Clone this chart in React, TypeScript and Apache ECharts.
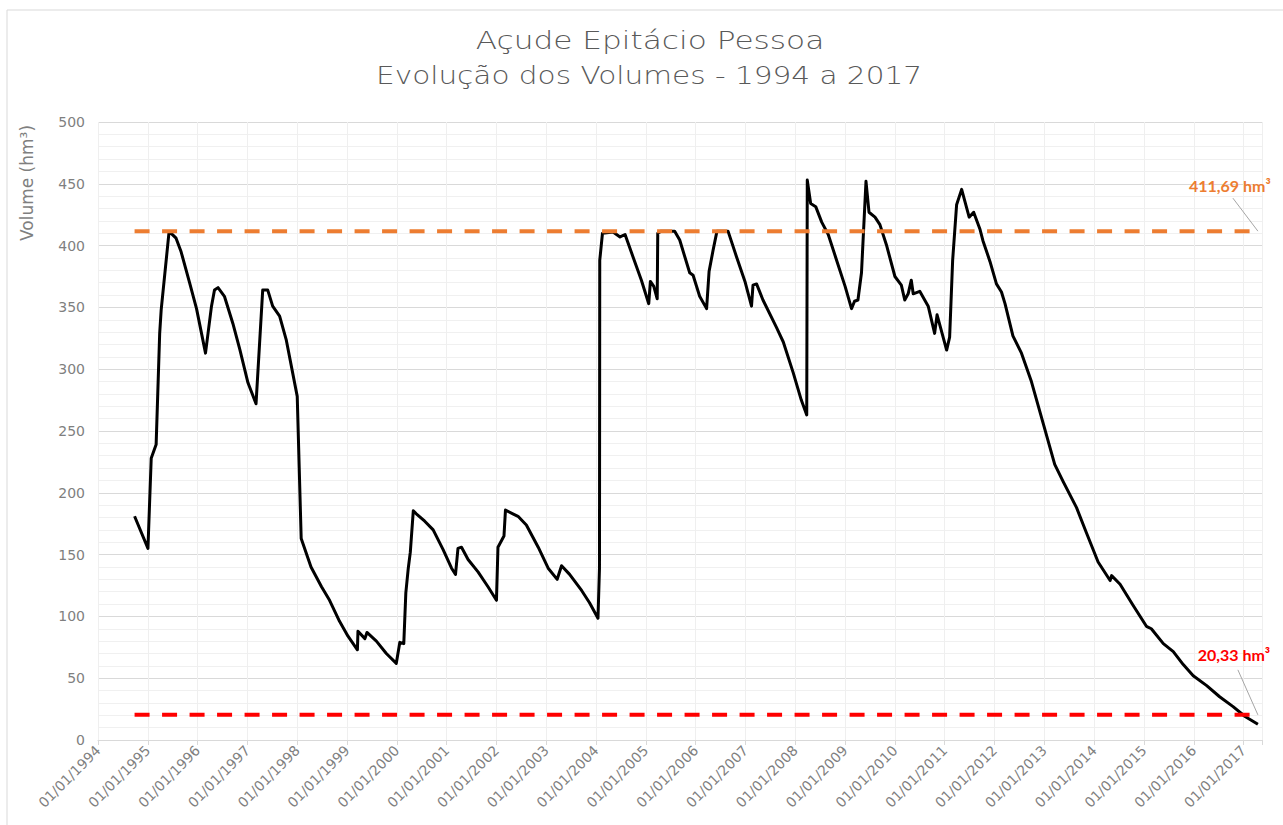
import React, { useEffect, useRef } from 'react';
import * as echarts from 'echarts';

const titleLines = ['Açude Epitácio Pessoa', 'Evolução dos Volumes - 1994 a 2017'];
const yAxisName = 'Volume (hm³)';
const capacity = 411.69;
const capacityLabel = '411,69 hm³';
const currentVolume = 20.33;
const currentLabel = '20,33 hm³';
const xStartYear = 1994;
const xEndYear = 2017.37;
const yMax = 500;
const yStep = 50;

const dates = [
  '1994-09-26', '1995-01-02', '1995-01-26', '1995-03-03', '1995-03-29', '1995-04-09', '1995-06-06', '1995-07-27',
  '1995-09-02', '1995-11-03', '1995-12-24', '1996-02-28', '1996-04-12', '1996-05-04', '1996-05-30', '1996-07-16',
  '1996-09-16', '1996-11-06', '1997-01-05', '1997-03-05', '1997-04-23', '1997-05-30', '1997-07-05', '1997-08-25',
  '1997-10-12', '1998-01-01', '1998-01-30', '1998-04-12', '1998-06-28', '1998-08-26', '1998-11-07', '1999-01-08',
  '1999-03-18', '1999-03-22', '1999-05-12', '1999-05-27', '1999-08-04', '1999-10-16', '1999-12-28', '2000-01-23',
  '2000-02-21', '2000-03-07', '2000-03-25', '2000-04-09', '2000-05-01', '2000-05-23', '2000-07-24', '2000-09-24',
  '2000-12-06', '2001-02-06', '2001-03-07', '2001-03-25', '2001-04-20', '2001-06-07', '2001-08-19', '2001-10-31',
  '2002-01-01', '2002-01-12', '2002-02-25', '2002-03-08', '2002-05-01', '2002-06-08', '2002-08-08', '2002-11-03',
  '2003-01-15', '2003-03-22', '2003-04-23', '2003-06-21', '2003-09-17', '2003-11-14', '2004-01-15', '2004-01-26',
  '2004-01-28', '2004-02-17', '2004-05-05', '2004-06-25', '2004-08-01', '2004-09-28', '2004-11-29', '2005-01-22',
  '2005-02-03', '2005-02-28', '2005-03-25', '2005-03-29', '2005-04-23', '2005-07-31', '2005-09-06', '2005-11-18',
  '2005-12-13', '2006-01-30', '2006-03-22', '2006-04-09', '2006-05-08', '2006-06-06', '2006-08-26', '2006-10-27',
  '2006-12-28', '2007-02-14', '2007-02-25', '2007-03-23', '2007-05-09', '2007-08-15', '2007-10-05', '2007-12-17',
  '2008-02-14', '2008-03-25', '2008-03-29', '2008-04-23', '2008-05-30', '2008-07-13', '2008-08-30', '2008-10-31',
  '2009-01-01', '2009-02-17', '2009-03-11', '2009-04-05', '2009-05-01', '2009-06-03', '2009-06-25', '2009-08-08',
  '2009-09-13', '2009-10-31', '2010-01-01', '2010-02-17', '2010-03-14', '2010-04-08', '2010-05-01', '2010-05-15',
  '2010-07-02', '2010-09-02', '2010-10-19', '2010-11-06', '2011-01-15', '2011-02-06', '2011-02-28', '2011-03-29',
  '2011-05-05', '2011-06-29', '2011-08-01', '2011-09-17', '2011-10-08', '2011-11-29', '2012-01-15', '2012-02-21',
  '2012-03-18', '2012-05-15', '2012-07-17', '2012-09-28', '2012-12-24', '2013-03-18', '2013-05-19', '2013-08-25',
  '2013-11-06', '2014-01-30', '2014-04-28', '2014-05-09', '2014-07-10', '2014-10-13', '2015-01-19', '2015-02-24',
  '2015-05-23', '2015-08-04', '2015-10-16', '2015-12-28', '2016-04-05', '2016-07-09', '2016-10-16', '2017-01-12',
  '2017-04-16',
];

const volumes = [
  181, 155, 228, 239, 329, 348, 411.5, 406,
  395, 370, 349, 313, 351, 364, 366, 359,
  337, 316, 289, 272, 364, 364, 351, 343,
  324, 278, 163, 140, 124, 113, 96, 84,
  73, 88, 82, 87, 80, 70, 62, 79,
  78, 119, 139, 152, 185.5, 183, 177, 170,
  154, 139, 134, 155, 156, 146, 136, 124,
  113, 156, 165, 186, 183, 181, 174, 156,
  139, 130, 141, 134, 121, 111, 98.5, 139,
  388, 410, 411, 407, 409, 391, 372, 353,
  371, 367, 357, 410, 411.7, 411.7, 404.5, 378,
  376, 359, 349, 379, 396, 411.7, 411.7, 391,
  371, 351, 368, 369, 356, 334, 322, 297,
  275, 263, 453, 434, 431.5, 419, 409, 388,
  367, 349, 355, 356, 378, 452, 427, 423,
  417, 400.5, 375, 368, 356, 361, 372, 361,
  363, 351, 329, 344, 315.5, 326, 388, 433,
  445.5, 423, 427, 413, 404, 387, 369, 362.5,
  353, 327, 313, 290, 256, 223, 209, 188,
  167.5, 144, 129, 133, 126, 109, 92, 90,
  78, 71.5, 61, 52, 44, 35, 27, 19,
  12.7,
];

function toYear(d: string): number {
  const [y, m, day] = d.split('-').map(Number);
  const start = Date.UTC(y, 0, 1);
  const end = Date.UTC(y + 1, 0, 1);
  return y + (Date.UTC(y, m - 1, day) - start) / (end - start);
}

export default function App() {
  const ref = useRef<HTMLDivElement>(null);

  useEffect(() => {
    if (!ref.current) return;
    const chart = echarts.init(ref.current, undefined, { renderer: 'svg' });
    const series = dates.map((d, i) => [toYear(d), volumes[i]]);
    const firstX = series[0][0];
    const lastX = series[series.length - 1][0];
    const labelColor = '#7f7f7f';
    const axisFont = 'DejaVu Sans';

    chart.setOption({
      animation: false,
      grid: { left: 98, right: 21, top: 122, bottom: 85, containLabel: false },
      xAxis: {
        type: 'value',
        min: xStartYear,
        max: xEndYear,
        interval: 1,
        axisLine: { show: true, lineStyle: { color: '#d9d9d9', width: 1 } },
        axisTick: { show: true, length: 5, lineStyle: { color: '#d9d9d9' } },
        axisLabel: {
          rotate: 45,
          fontSize: 14,
          fontFamily: axisFont,
          color: labelColor,
          margin: 8,
          formatter: (v: number) => (Math.abs(v - Math.round(v)) < 1e-6 ? '01/01/' + Math.round(v) : ''),
        },
        splitLine: { show: true, lineStyle: { color: '#efefef', width: 1 } },
      },
      yAxis: {
        type: 'value',
        min: 0,
        max: yMax,
        interval: yStep,
        axisLine: { show: false },
        axisTick: { show: false },
        axisLabel: { fontSize: 14, fontFamily: axisFont, color: labelColor, margin: 13 },
        splitLine: { show: true, lineStyle: { color: '#d9d9d9', width: 1 } },
        minorTick: { show: false, splitNumber: 5 },
        minorSplitLine: { show: true, lineStyle: { color: '#f0f0f0', width: 1 } },
      },
      series: [
        {
          type: 'line',
          data: series,
          symbol: 'none',
          lineStyle: { color: '#000000', width: 3, join: 'round' },
          z: 3,
        },
        {
          type: 'line',
          data: [[firstX, capacity], [lastX, capacity]],
          symbol: 'none',
          lineStyle: { color: '#ED7D31', width: 4, type: [15, 12.5] },
          z: 4,
        },
        {
          type: 'line',
          data: [[firstX, currentVolume], [lastX, currentVolume]],
          symbol: 'none',
          lineStyle: { color: '#FF0000', width: 4, type: [15, 12.5] },
          z: 4,
        },
      ],
    });

    const pO = chart.convertToPixel({ gridIndex: 0 }, [lastX, capacity]) as number[];
    const pR = chart.convertToPixel({ gridIndex: 0 }, [lastX, currentVolume]) as number[];

    chart.setOption({
      graphic: [
        {
          type: 'rect',
          shape: { x: 7, y: 10, width: 1300, height: 840 },
          style: { fill: 'none', stroke: '#d9d9d9', lineWidth: 1 },
          silent: true,
        },
        {
          type: 'text',
          x: 650,
          y: 41,
          scaleX: 1.3,
          style: {
            text: titleLines[0],
            fontSize: 24,
            fontWeight: 300,
            fontFamily: 'DejaVu Sans',
            fill: '#595959',
            align: 'center',
            verticalAlign: 'middle',
          },
        },
        {
          type: 'text',
          x: 649,
          y: 76,
          scaleX: 1.23,
          style: {
            text: titleLines[1],
            fontSize: 24,
            fontWeight: 300,
            fontFamily: 'DejaVu Sans',
            fill: '#595959',
            align: 'center',
            verticalAlign: 'middle',
          },
        },
        {
          type: 'text',
          x: 27,
          y: 183,
          rotation: Math.PI / 2,
          style: {
            text: yAxisName,
            fontSize: 17,
            fontFamily: axisFont,
            fill: labelColor,
            align: 'center',
            verticalAlign: 'middle',
          },
        },
        {
          type: 'line',
          shape: { x1: pO[0] - 25, y1: pO[1] - 33, x2: pO[0], y2: pO[1] },
          style: { stroke: '#a6a6a6', lineWidth: 1 },
          z: 10,
        },
        {
          type: 'text',
          x: pO[0] - 28,
          y: pO[1] - 46,
          style: {
            text: capacityLabel,
            fontSize: 16,
            fontWeight: 'bold',
            fontFamily: 'Lato',
            fill: '#ED7D31',
            align: 'center',
            verticalAlign: 'middle',
          },
          z: 10,
        },
        {
          type: 'line',
          shape: { x1: pR[0] - 20, y1: pR[1] - 45, x2: pR[0], y2: pR[1] },
          style: { stroke: '#a6a6a6', lineWidth: 1 },
          z: 10,
        },
        {
          type: 'text',
          x: pR[0] - 24,
          y: pR[1] - 60,
          style: {
            text: currentLabel,
            fontSize: 16,
            fontWeight: 'bold',
            fontFamily: 'Lato',
            fill: '#FF0000',
            align: 'center',
            verticalAlign: 'middle',
          },
          z: 10,
        },
      ],
    });

    return () => chart.dispose();
  }, []);

  return (
    <div
      ref={ref}
      style={{ position: 'fixed', left: 0, top: 0, width: 1283, height: 825, background: '#ffffff' }}
    />
  );
}
